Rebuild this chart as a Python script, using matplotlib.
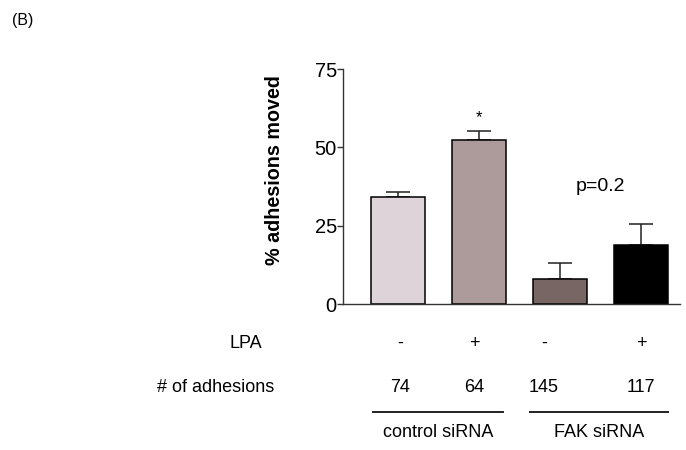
import matplotlib.pyplot as plt
import numpy as np

# data
lpa = ["-", "+", "-", "+"]
n_adhesions = ["74", "64", "145", "117"]
groups = ["control siRNA", "FAK siRNA"]
moved = [34.2, 52.2, 7.9, 18.8]
sem = [1.6, 2.9, 5.1, 6.6]
colors = ["#ddd3d9", "#ad9b9c", "#776664", "#000000"]

plt.rcParams["font.family"] = ["Liberation Sans", "DejaVu Sans"]

W, H = 686, 450
fig = plt.figure(figsize=(W / 100, H / 100), dpi=100)
ax = fig.add_axes([0.5, 0.3244, 0.491, 0.5222])

x = np.arange(len(moved))
ax.bar(x, moved, width=0.667, color=colors, edgecolor="black", linewidth=1.1, zorder=2)
ax.errorbar(x, moved, yerr=[np.zeros(len(sem)), sem], fmt="none", ecolor="#222222",
            elinewidth=1.1, capsize=8.3, capthick=1.1, zorder=1)

ax.set_xlim(-0.679, 3.48)
ax.set_ylim(0, 75)
ax.set_yticks([0, 25, 50, 75])
ax.set_xticks([])
ax.tick_params(axis="y", labelsize=14.5, length=4, width=1, color="#333333", pad=0.5)
for s in ["top", "right"]:
    ax.spines[s].set_visible(False)
for s in ["left", "bottom"]:
    ax.spines[s].set_color("#333333")
    ax.spines[s].set_linewidth(1)

fig.text(274 / W, 1 - 170 / H, "% adhesions moved", rotation=90, ha="center", va="center",
         fontsize=14.2, fontweight="bold")

# annotations
ax.text(1, 59.5, "*", ha="center", va="center", fontsize=12)
ax.text(2.5, 37.5, "p=0.2", ha="center", va="center", fontsize=14)

# rows beneath the axis (column centres sit slightly off the bars in the original)
cols = [400, 474, 544, 641]
for cx, s in zip(cols, lpa):
    fig.text(cx / W, 1 - 343 / H, s, ha="center", va="center", fontsize=13)
for cx, s in zip(cols, n_adhesions):
    fig.text(cx / W, 1 - 387 / H, s, ha="center", va="center", fontsize=13)

tr = ax.get_xaxis_transform()
spans = [(-0.309, 1.296), (1.63, 3.33)]
for (left, right), g in zip(spans, groups):
    ax.plot([left, right], [-0.46, -0.46], transform=tr, color="#222222", lw=1.4, clip_on=False)
    ax.text((left + right) / 2, -0.545, g, transform=tr, ha="center", va="center",
            fontsize=13, clip_on=False)

fig.text(246 / W, 1 - 343 / H, "LPA", ha="center", va="center", fontsize=13)
fig.text(216 / W, 1 - 387 / H, "# of adhesions", ha="center", va="center", fontsize=13)
fig.text(12 / W, 1 - 20 / H, "(B)", ha="left", va="center", fontsize=11.5)

fig.savefig("out.png", dpi=100)
